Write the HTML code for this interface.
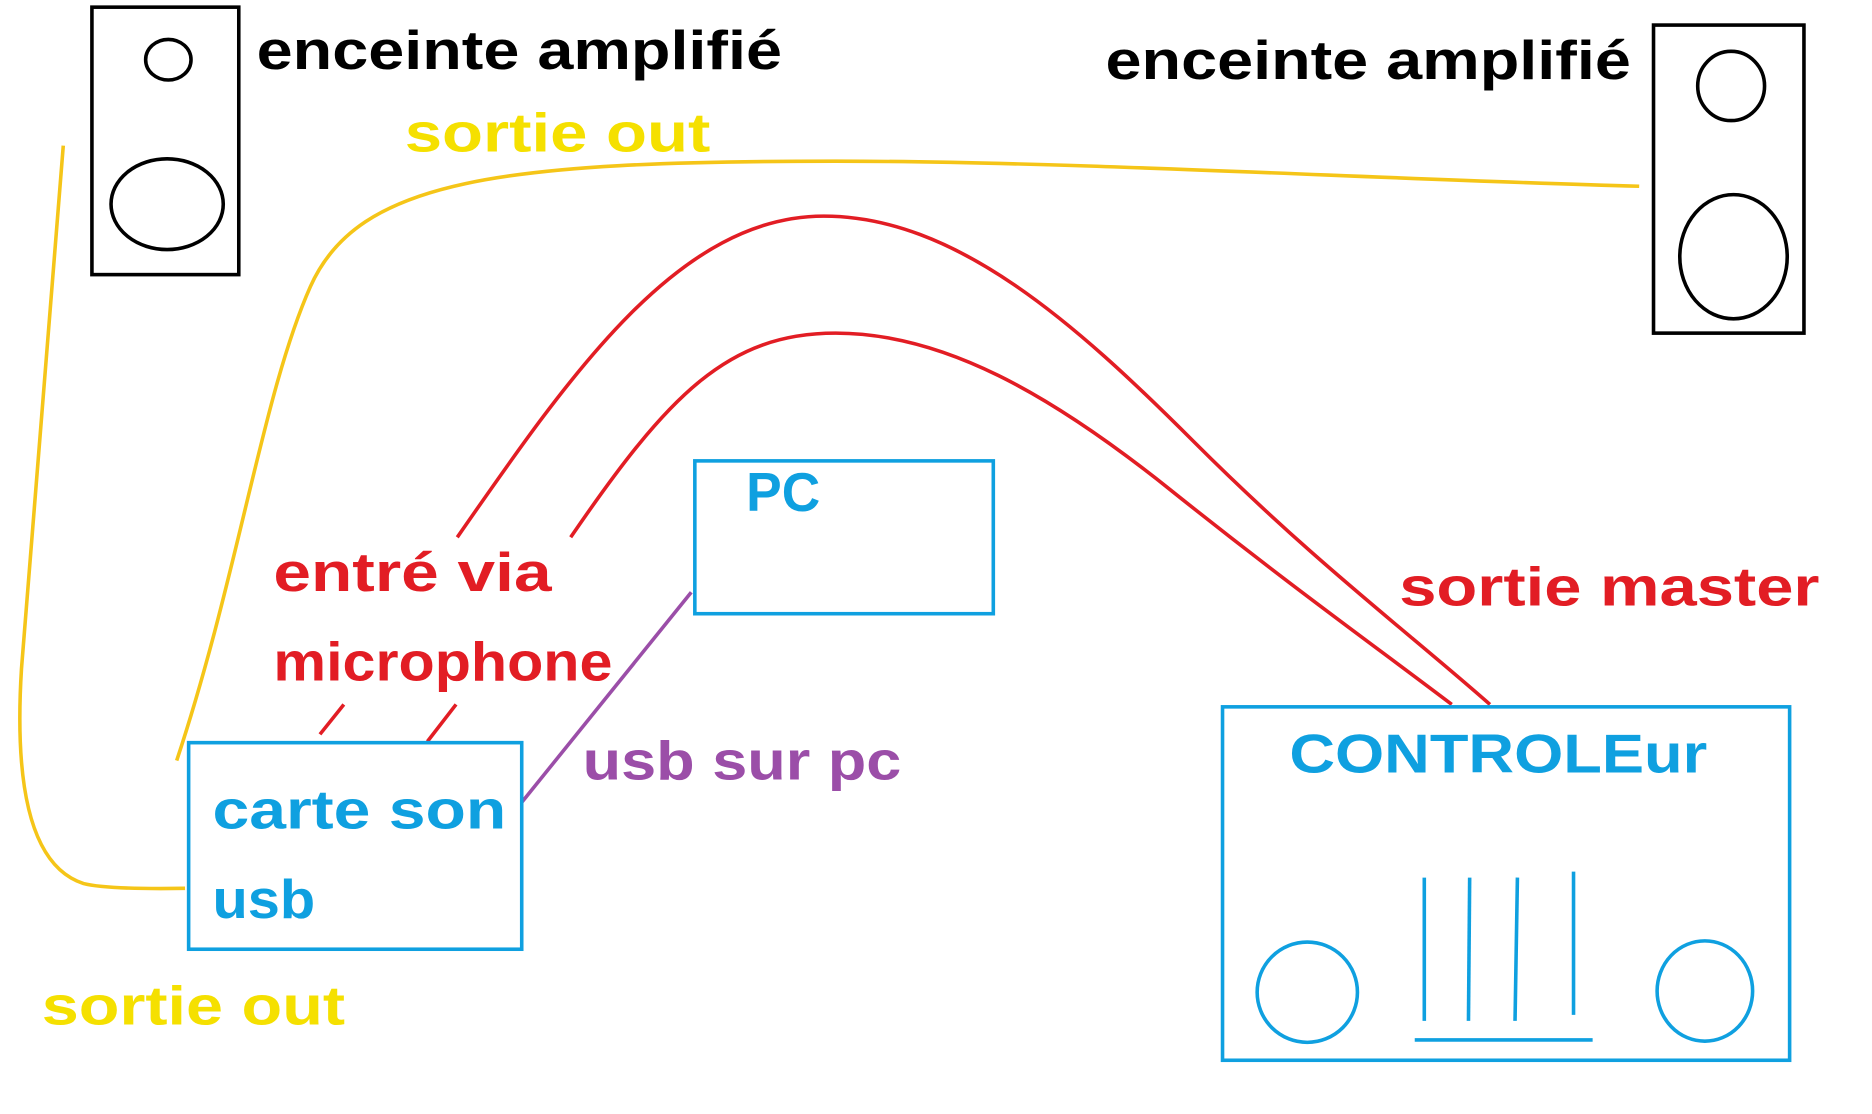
<!DOCTYPE html>
<html><head><meta charset="utf-8"><style>
html,body{margin:0;padding:0;background:#fff;overflow:hidden}
svg{display:block}
text{font-family:"Liberation Sans",sans-serif;font-weight:bold}
</style></head><body>
<svg width="1872" height="1114" viewBox="0 0 1568 933" preserveAspectRatio="none" xmlns="http://www.w3.org/2000/svg">
<rect width="1568" height="933" fill="#fff"/>
<rect x="77" y="6" width="123" height="224" fill="none" stroke="#000" stroke-width="3"/>
<ellipse cx="141" cy="50" rx="19" ry="17" fill="none" stroke="#000" stroke-width="3"/>
<ellipse cx="140" cy="171" rx="47" ry="38" fill="none" stroke="#000" stroke-width="3"/>
<rect x="1385" y="21" width="126" height="258" fill="none" stroke="#000" stroke-width="3"/>
<ellipse cx="1450" cy="72" rx="28" ry="29" fill="none" stroke="#000" stroke-width="3"/>
<ellipse cx="1452" cy="215" rx="45" ry="52" fill="none" stroke="#000" stroke-width="3"/>
<text x="215" y="58" font-size="46" fill="#000" textLength="440" lengthAdjust="spacingAndGlyphs">enceinte amplifié</text>
<text x="926" y="66" font-size="46" fill="#000" textLength="440" lengthAdjust="spacingAndGlyphs">enceinte amplifié</text>
<path d="M53 122 L18 560 Q8 720 70 740 Q90 745 155 744" fill="none" stroke="#f5c518" stroke-width="3"/>
<path d="M148 637 C200 480 220 330 260 240 C300 150 420 135 700 135 C900 135 1150 150 1373 156" fill="none" stroke="#f5c518" stroke-width="3"/>
<text x="339" y="127" font-size="46" fill="#f5e000" textLength="256" lengthAdjust="spacingAndGlyphs">sortie out</text>
<text x="35" y="858" font-size="46" fill="#f5e000" textLength="254" lengthAdjust="spacingAndGlyphs">sortie out</text>
<path d="M383 450 C480 310 570 181 690 181 C800 181 900 270 1000 370 C1100 470 1180 530 1248 590" fill="none" stroke="#e21d24" stroke-width="3"/>
<path d="M478 450 C560 330 610 279 700 279 C790 279 880 330 980 410 C1080 490 1150 540 1216 590" fill="none" stroke="#e21d24" stroke-width="3"/>
<line x1="288" y1="590" x2="268" y2="615" stroke="#e21d24" stroke-width="3"/>
<line x1="382" y1="590" x2="358" y2="621" stroke="#e21d24" stroke-width="3"/>
<text x="229" y="495" font-size="46" fill="#e21d24" textLength="233" lengthAdjust="spacingAndGlyphs">entré via</text>
<text x="229" y="570" font-size="46" fill="#e21d24" textLength="284" lengthAdjust="spacingAndGlyphs">microphone</text>
<text x="1172" y="507" font-size="46" fill="#e21d24" textLength="352" lengthAdjust="spacingAndGlyphs">sortie master</text>
<line x1="579" y1="496" x2="437" y2="672" stroke="#9b4ea8" stroke-width="3"/>
<text x="488" y="653" font-size="46" fill="#9b4ea8" textLength="267" lengthAdjust="spacingAndGlyphs">usb sur pc</text>
<rect x="582" y="386" width="250" height="128" fill="none" stroke="#0fa0e0" stroke-width="3"/>
<text x="625" y="428" font-size="46" fill="#0fa0e0" textLength="62" lengthAdjust="spacingAndGlyphs">PC</text>
<rect x="158" y="622" width="279" height="173" fill="none" stroke="#0fa0e0" stroke-width="3"/>
<text x="178" y="694" font-size="46" fill="#0fa0e0" textLength="246" lengthAdjust="spacingAndGlyphs">carte son</text>
<text x="178" y="769" font-size="46" fill="#0fa0e0" textLength="86" lengthAdjust="spacingAndGlyphs">usb</text>
<rect x="1024" y="592" width="475" height="296" fill="none" stroke="#0fa0e0" stroke-width="3"/>
<text x="1080" y="647" font-size="46" fill="#0fa0e0" textLength="350" lengthAdjust="spacingAndGlyphs">CONTROLEur</text>
<ellipse cx="1095" cy="831" rx="42" ry="42" fill="none" stroke="#0fa0e0" stroke-width="3"/>
<ellipse cx="1428" cy="830" rx="40" ry="42" fill="none" stroke="#0fa0e0" stroke-width="3"/>
<line x1="1193" y1="735" x2="1193" y2="855" stroke="#0fa0e0" stroke-width="3"/>
<line x1="1231" y1="735" x2="1230" y2="855" stroke="#0fa0e0" stroke-width="3"/>
<line x1="1271" y1="735" x2="1269" y2="855" stroke="#0fa0e0" stroke-width="3"/>
<line x1="1318" y1="730" x2="1318" y2="850" stroke="#0fa0e0" stroke-width="3"/>
<line x1="1185" y1="871" x2="1334" y2="871" stroke="#0fa0e0" stroke-width="3"/>
</svg>
</body></html>
